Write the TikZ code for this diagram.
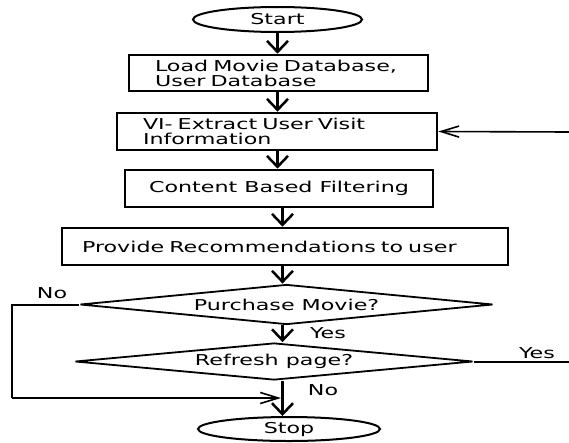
\documentclass[tikz,border=0pt]{standalone}
\usepackage{fontspec}
\setmainfont{DejaVu Sans}[FakeStretch=1.48]
\usetikzlibrary{shapes.geometric,arrows.meta}
\begin{document}
\begin{tikzpicture}
	[x=1pt,y=-1pt,
	term/.style={ellipse,draw=black,line width=2pt,inner sep=0pt,font=\fontsize{15}{15}\selectfont},
	box/.style={rectangle,draw=black,line width=2.6pt,inner ysep=0pt,font=\fontsize{15}{15}\selectfont},
	decision/.style={diamond,draw=black,line width=1.8pt,inner sep=0pt,aspect=9,font=\fontsize{15}{15}\selectfont},
	plain/.style={draw=none,fill=none,inner sep=0pt,font=\fontsize{15}{15}\selectfont},
	flow/.style={-{Straight Barb[length=11pt,width=21pt]},line width=2.5pt},
	line/.style={line width=2pt},
	back/.style={-{Straight Barb[length=18pt,width=11pt]},line width=1.6pt}
	]
	\fill[white] (0,0) rectangle (569,442);
	\useasboundingbox (0,0) rectangle (569,442);
	\node[term,minimum width=169pt,minimum height=25pt] (start) at (277.5,19.5){Start};
	\node[box,minimum width=299pt,minimum height=36pt,text width=247pt,inner xsep=26pt,align=left] (load) at (278.5,73){Load Movie Database,\\User Database};
	\node[box,minimum width=320pt,minimum height=37pt,text width=268pt,inner xsep=26pt,align=left] (visit) at (277,131.5){VI- Extract User Visit\\Information};
	\node[box,minimum width=308pt,minimum height=37pt] (filter) at (279,188.5){Content Based Filtering};
	\node[box,minimum width=446pt,minimum height=37pt,text width=406pt,inner xsep=20pt,align=left] (recom) at (285,246.5){Provide Recommendations to user};
	\node[decision,minimum width=413pt,minimum height=40pt] (buy) at (286.5,304.5){Purchase Movie?};
	\node[decision,minimum width=398pt,minimum height=37pt] (refresh) at (274,361.5){Refresh page?};
	\node[term,minimum width=182pt,minimum height=24pt] (stop) at (289,429){Stop};

\coordinate (upper) at (277.5,0);
\coordinate (lower) at (282.5,0);
\coordinate (nocorner) at (12,398);
\coordinate (merge) at (281,398);
\coordinate (yesend) at (569,361.5);
\coordinate (loopin) at (569,132);

	\draw[flow] (start.south -| upper) -- (load.north -| upper);
	\draw[flow] (load.south -| upper) -- (visit.north -| upper);
	\draw[flow] (visit.south -| upper) -- (filter.north -| upper);
	\draw[flow] (filter.south -| lower) -- (recom.north -| lower);
	\draw[flow] (recom.south -| lower) -- (buy.north -| lower);
	\draw[flow] (buy.south -| lower) -- (refresh.north -| lower);
	\draw[flow] (refresh.south -| lower) -- (stop.north -| lower);
	\draw[line] (buy.west) -| (nocorner);
	\draw[back] (nocorner) -- (merge);
	\draw[line] (refresh.east) -- (yesend);
	\draw[back] (loopin) -- (visit.east);

\node[plain] (nolabel) at (52,293){No};
\node[plain] (yeslabel) at (328,333){Yes};
\node[plain] (yesright) at (537,353){Yes};
\node[plain] (nobottom) at (323,390){No};
	\end{tikzpicture}
\end{document}
